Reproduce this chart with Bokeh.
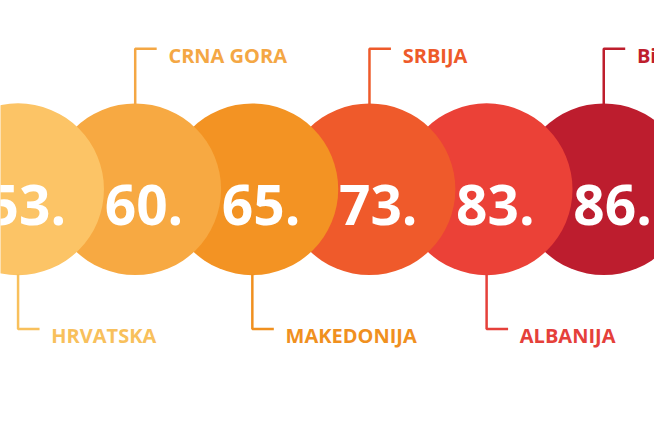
from bokeh.core.properties import value
from bokeh.embed import file_html
from bokeh.models import ColumnDataSource
from bokeh.plotting import figure
from bokeh.resources import INLINE

# rank of each country, left to right
countries = ["HRVATSKA", "CRNA GORA", "MAKEDONIJA", "SRBIJA", "ALBANIJA", "BiH"]
ranks = [53, 60, 65, 73, 83, 86]
colours = ["#FCC466", "#F7A942", "#F39323", "#EF5A2B", "#EB4137", "#BD1D2E"]
label_colours = ["#F8C05C", "#F4A744", "#F0901F", "#EE5A2A", "#E5403A", "#BE1E2D"]

PX = 120.0  # reference pixels per circle step
R = 88 / PX  # circle radius in data units
FONT = "Open Sans"


def main():
    n = len(ranks)
    xs = list(range(n))
    above = [i % 2 == 1 for i in xs]

    p = figure(width=654, height=417, output_backend="svg", toolbar_location=None,
               x_range=(-18 / PX, 652 / PX), y_range=(-237 / PX, 196 / PX),
               min_border=0, outline_line_color=None, background_fill_color="white")
    p.axis.visible = False
    p.grid.visible = False

    # earlier circles sit on top of later ones, so draw right to left
    order = list(reversed(xs))
    circ = ColumnDataSource(dict(x=[xs[i] for i in order], y=[0] * n,
                                 c=[colours[i] for i in order]))
    p.circle(x="x", y="y", radius=R, fill_color="c", line_color=None, source=circ)

    p.text(x=[x + 9 / PX for x in xs], y=[-16 / PX] * n, text=[f"{r}." for r in ranks],
           text_color="white", text_font=value(FONT), text_font_style="bold",
           text_font_size="55px", text_align="center", text_baseline="alphabetic")

    # connectors: from the circle edge to the label line, then a short tick right
    line_xs, line_ys, lab_y = [], [], []
    for i in xs:
        edge = R if above[i] else -R
        ly = 146 / PX if above[i] else -145 / PX
        line_xs.append([i, i, i + 22 / PX])
        line_ys.append([edge, ly, ly])
        lab_y.append(ly - 7 / PX)
    p.multi_line(xs=line_xs, ys=line_ys, line_color=label_colours, line_width=2.5)

    p.text(x=[i + 34 / PX for i in xs], y=lab_y, text=countries,
           text_color=label_colours, text_font=value(FONT), text_font_style="bold",
           text_font_size="20px", text_align="left", text_baseline="alphabetic")

    open("out.html", "w").write(file_html(p, INLINE))


if __name__ == "__main__":
    main()
